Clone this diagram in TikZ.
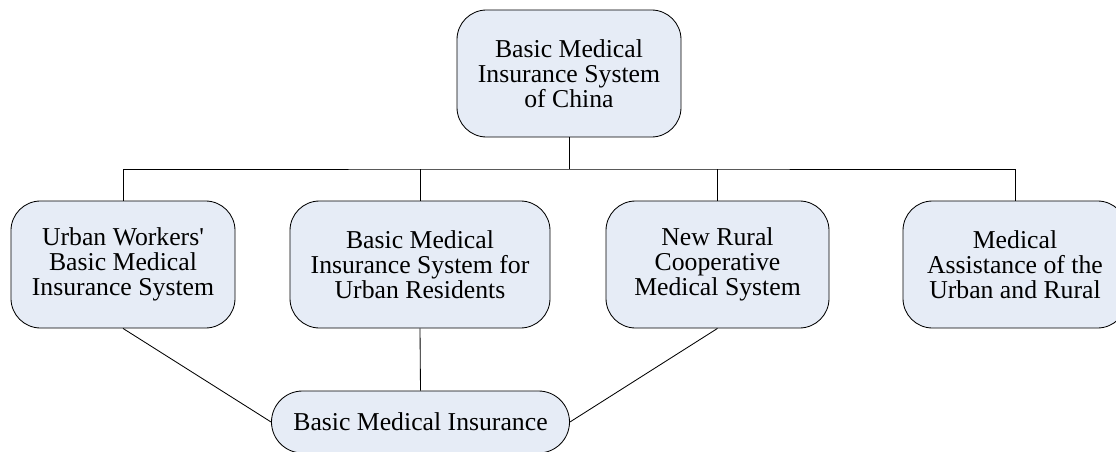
\documentclass[tikz,border=0pt]{standalone}
\usepackage{fontspec}
\setmainfont{Liberation Serif}
\definecolor{boxfill}{RGB}{230,236,246}
\begin{document}
\begin{tikzpicture}
      \tikzstyle{STY1} = [draw, fill=boxfill, rectangle, line width=.6pt, align=center, minimum height=3.175cm, rounded corners=21pt, font=\fontsize{18.3}{17.8}\selectfont]
      \tikzstyle{STY2} = [line width=.6pt]

      \useasboundingbox (0,0) rectangle (27.9, 11.275);

      %%%%% VERTEX

      \node[STY1, minimum width=5.6cm](v0) at (14.225, 9.4375) {Basic Medical\\Insurance System\\of China};

      \node[STY1, minimum width=5.6cm](v1) at (3.075, 4.6625) {Urban Workers\textquotesingle\\Basic Medical\\Insurance System};
      \node[STY1, minimum width=6.5cm](v2) at (10.5, 4.6625) {Basic Medical\\Insurance System for\\Urban Residents};
      \node[STY1, minimum width=5.575cm](v3) at (17.9375, 4.6625) {New Rural\\Cooperative\\Medical System};
      \node[STY1, minimum width=5.6cm](v4) at (25.375, 4.6625) {Medical\\Assistance of the\\Urban and Rural};

      \node[STY1, minimum width=7.45cm, minimum height=1.55cm, rounded corners=.775cm](v5) at (10.5125, 0.725) {Basic Medical Insurance};

      \coordinate (bus) at (14.225, 7.05);

      %%%%% EDGES

      \draw[STY2]  (v0.south) -- (bus);
      \draw[STY2]  (v1.north) |- (bus) -| (v4.north);
      \draw[STY2]  (v2.north) -- (v2.north |- bus);
      \draw[STY2]  (v3.north) -- (v3.north |- bus);

      \draw[STY2]  (v1.south) -- (v5.west);
      \draw[STY2]  (v2.south) -- (v5.north);
      \draw[STY2]  (v3.south) -- (v5.east);
    \end{tikzpicture}
\end{document}
